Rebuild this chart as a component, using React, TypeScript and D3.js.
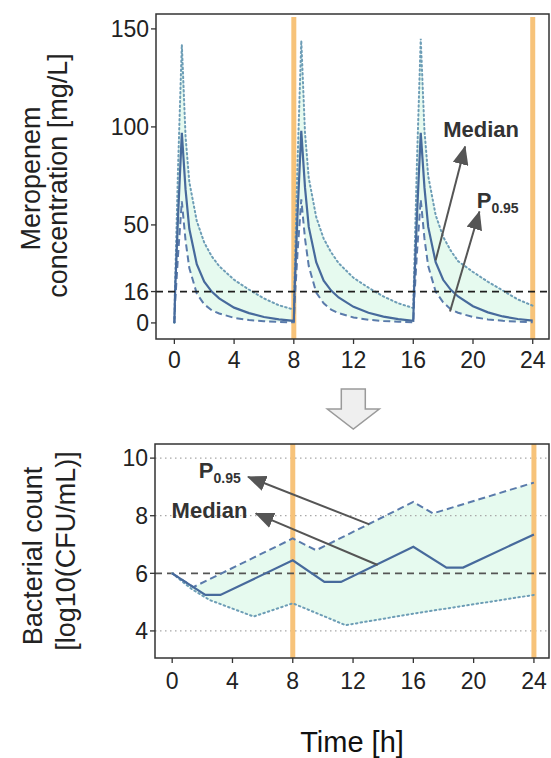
import React from "react";
import * as d3 from "d3";

// ---------- Top panel: meropenem concentration (mg/L) ----------
const tTop = [
  0, 0.05, 0.25, 0.5, 0.75, 1, 1.5, 2, 2.5, 3, 4, 5, 6, 7, 8,
  8.05, 8.25, 8.5, 8.75, 9, 9.5, 10, 10.5, 11, 12, 13, 14, 15, 16,
  16.05, 16.25, 16.5, 16.75, 17, 17.5, 18, 18.5, 19, 20, 21, 22, 23, 24,
];
const concMedian = [
  0, 16, 55, 97, 68, 48, 30, 21, 16, 12.5, 7.8, 5, 3, 1.8, 1.0,
  16, 56, 98, 69, 49, 31, 21.5, 16.5, 13, 8.2, 5.2, 3.2, 1.9, 1.1,
  16, 55, 97, 69, 49, 31, 22, 17, 13.5, 8.5, 5.4, 3.3, 2, 1.2,
];
const concP95 = [
  0, 10, 35, 62, 42, 28, 15, 9.5, 6.5, 4.8, 2.6, 1.5, 0.9, 0.5, 0.3,
  10, 36, 63, 43, 29, 15.5, 10, 6.8, 5, 2.8, 1.6, 1.0, 0.6, 0.3,
  10, 36, 63, 43, 29, 16, 10.5, 7, 5.2, 3, 1.8, 1.1, 0.6, 0.3,
];
const concP05 = [
  0, 20, 80, 142, 95, 72, 52, 41, 34, 29, 22, 17, 12.5, 9, 6.8,
  22, 82, 144, 97, 74, 54, 43, 36, 30.5, 23, 18, 13.5, 10, 7.6,
  23, 83, 145, 98, 75, 55, 44, 37, 31.5, 26, 21, 16.5, 12, 8.8,
];
const topYTicks = [0, 16, 50, 100, 150];
const micValue = 16;

// ---------- Bottom panel: bacterial count (log10 CFU/mL) ----------
const tBotMedian = [0, 2.2, 3.2, 8, 10.1, 11.2, 16, 18.2, 19.3, 24];
const cfuMedian = [6.0, 5.25, 5.25, 6.45, 5.7, 5.7, 6.92, 6.2, 6.2, 7.35];
const tBotP95 = [0, 1.4, 8, 9.55, 16, 17.3, 24];
const cfuP95 = [6.0, 5.52, 7.21, 6.8, 8.48, 8.08, 9.15];
const tBotP05 = [0, 1.3, 2.5, 5.4, 8, 11.5, 16, 24];
const cfuP05 = [6.0, 5.45, 5.07, 4.5, 4.96, 4.2, 4.6, 5.25];
const botYTicks = [4, 6, 8, 10];
const botGrid = [4, 8, 10];
const stasisValue = 6;

const xTicks = [0, 4, 8, 12, 16, 20, 24];
const doseLines = [8, 24];

// annotations (data coordinates)
const topArrows = [
  { from: [17.5, 32], to: [19.47, 90] },
  { from: [18.46, 5.8], to: [20.43, 56.8] },
];
const botArrows = [
  { from: [13.08, 7.7], to: [5.03, 9.35] },
  { from: [13.63, 6.29], to: [5.54, 8.08] },
];
const topLabels = { median: [18.0, 94.9], p95: [20.25, 58.7] };
const botLabels = { median: [-0.04, 7.92], p95: [1.77, 9.31] };

const FONT = "'Liberation Sans', Arial, Helvetica, sans-serif";
const C_MED = "#476a9c";
const C_P95 = "#5a7bab";
const C_P05 = "#6d9db6";
const C_FILL = "#e6faef";
const C_ORANGE = "#f7c37a";
const C_ARROW = "#555555";

type Pt = [number, number];

export default function App() {
  // scales
  const xT = d3.scaleLinear().domain([-1.23, 25.09]).range([156, 549]);
  const yT = d3.scaleLinear().domain([-8.2, 157.6]).range([339, 14]);
  const xB = d3.scaleLinear().domain([-1.14, 25.0]).range([155, 549]);
  const yB = d3.scaleLinear().domain([3.06, 10.49]).range([658, 444]);

  const lineT = d3.line<Pt>().x((d) => xT(d[0])).y((d) => yT(d[1]));
  const lineB = d3.line<Pt>().x((d) => xB(d[0])).y((d) => yB(d[1]));

  const zipT = (vals: number[]): Pt[] => tTop.map((t, i) => [t, vals[i]]);
  const zip = (ts: number[], vals: number[]): Pt[] => ts.map((t, i) => [t, vals[i]]);

  const areaT = d3
    .area<number>()
    .x((_, i) => xT(tTop[i]))
    .y0((_, i) => yT(concP95[i]))
    .y1((_, i) => yT(concP05[i]));

  const botUpper = zip(tBotP95, cfuP95);
  const botLower = zip(tBotP05, cfuP05).reverse();
  const botFill = lineB([...botUpper, ...botLower]) + "Z";

  const [xt0, xt1] = xT.range();
  const [yt0, yt1] = yT.range();
  const [xb0, xb1] = xB.range();
  const [yb0, yb1] = yB.range();

  const tickFont = 23;

  // block arrow between panels
  const cx = (xT(12) + xB(12)) / 2;
  const bTop = 389, bHead = 409, bTip = 429;
  const blockPts = [
    [cx - 12, bTop], [cx + 12, bTop], [cx + 12, bHead], [cx + 26, bHead],
    [cx, bTip], [cx - 26, bHead], [cx - 12, bHead],
  ].map((p) => p.join(",")).join(" ");

  return (
    <svg width={551} height={758} style={{ position: "absolute", left: 0, top: 0, background: "#fff" }}
      fontFamily={FONT}>
      <defs>
        <marker id="ah" viewBox="0 0 19 16" refX="18" refY="8" markerWidth="19" markerHeight="16"
          markerUnits="userSpaceOnUse" orient="auto">
          <path d="M0,0 L19,8 L0,16 Z" fill={C_ARROW} />
        </marker>
      </defs>

      {/* ================= TOP PANEL ================= */}
      <path d={areaT(concP05) || ""} fill={C_FILL} />
      {doseLines.map((t) => (
        <line key={"ot" + t} x1={xT(t)} x2={xT(t)} y1={yt1 + 3} y2={yt0} stroke={C_ORANGE} strokeWidth={5} />
      ))}
      <path d={lineT(zipT(concP05)) || ""} fill="none" stroke={C_P05} strokeWidth={2}
        strokeDasharray="1.5,3" strokeLinecap="round" />
      <path d={lineT(zipT(concP95)) || ""} fill="none" stroke={C_P95} strokeWidth={2}
        strokeDasharray="7,4" />
      <path d={lineT(zipT(concMedian)) || ""} fill="none" stroke={C_MED} strokeWidth={2.2} />
      <line x1={xt0} x2={xt1} y1={yT(micValue)} y2={yT(micValue)} stroke="#1f1f1f" strokeWidth={1.8}
        strokeDasharray="7,5" />
      <rect x={xt0} y={yt1} width={xt1 - xt0} height={yt0 - yt1} fill="none" stroke="#333" strokeWidth={1.5} />
      {topYTicks.map((v) => (
        <g key={"yt" + v}>
          <line x1={xt0 - 5} x2={xt0} y1={yT(v)} y2={yT(v)} stroke="#333" strokeWidth={1.3} />
          <text x={xt0 - 7} y={yT(v)} dy="0.36em" textAnchor="end" fontSize={tickFont} fill="#222">{v}</text>
        </g>
      ))}
      {xTicks.map((t) => (
        <g key={"xt" + t}>
          <line x1={xT(t)} x2={xT(t)} y1={yt0} y2={yt0 + 5} stroke="#333" strokeWidth={1.3} />
          <text x={xT(t)} y={368} textAnchor="middle" fontSize={tickFont} fill="#222">{t}</text>
        </g>
      ))}
      <text transform={`translate(40,${(yt0 + yt1) / 2 + 2}) rotate(-90)`} textAnchor="middle" fontSize={27} fill="#222">Meropenem</text>
      <text transform={`translate(67,${(yt0 + yt1) / 2 - 1}) rotate(-90)`} textAnchor="middle" fontSize={27} fill="#222">concentration [mg/L]</text>
      {topArrows.map((a, i) => (
        <line key={"ta" + i} x1={xT(a.from[0])} y1={yT(a.from[1])} x2={xT(a.to[0])} y2={yT(a.to[1])}
          stroke={C_ARROW} strokeWidth={2} markerEnd="url(#ah)" />
      ))}
      <text x={xT(topLabels.median[0])} y={yT(topLabels.median[1])} fontSize={22} fontWeight="bold" fill="#333">Median</text>
      <text x={xT(topLabels.p95[0])} y={yT(topLabels.p95[1])} fontSize={22} fontWeight="bold" fill="#333">
        P<tspan fontSize={14} dy={5}>0.95</tspan>
      </text>

      {/* ================= BLOCK ARROW ================= */}
      <polygon points={blockPts} fill="#efefef" stroke="#9a9a9a" strokeWidth={1.5} />

      {/* ================= BOTTOM PANEL ================= */}
      <path d={botFill} fill={C_FILL} />
      {botGrid.map((v) => (
        <line key={"g" + v} x1={xb0} x2={xb1} y1={yB(v)} y2={yB(v)} stroke="#a8a8a8" strokeWidth={1.3}
          strokeDasharray="1.5,3.5" />
      ))}
      {doseLines.map((t) => (
        <line key={"ob" + t} x1={xB(t)} x2={xB(t)} y1={yb1} y2={yb0} stroke={C_ORANGE} strokeWidth={5} />
      ))}
      <line x1={xb0} x2={xb1} y1={yB(stasisValue)} y2={yB(stasisValue)} stroke="#555" strokeWidth={1.8}
        strokeDasharray="7,5" />
      <path d={lineB(zip(tBotP05, cfuP05)) || ""} fill="none" stroke={C_P05} strokeWidth={2}
        strokeDasharray="1.5,3.2" strokeLinecap="round" />
      <path d={lineB(zip(tBotP95, cfuP95)) || ""} fill="none" stroke={C_P95} strokeWidth={2}
        strokeDasharray="7,4" />
      <path d={lineB(zip(tBotMedian, cfuMedian)) || ""} fill="none" stroke={C_MED} strokeWidth={2.2} />
      <rect x={xb0} y={yb1} width={xb1 - xb0} height={yb0 - yb1} fill="none" stroke="#333" strokeWidth={1.5} />
      {botYTicks.map((v) => (
        <g key={"yb" + v}>
          <line x1={xb0 - 5} x2={xb0} y1={yB(v)} y2={yB(v)} stroke="#333" strokeWidth={1.3} />
          <text x={xb0 - 7} y={yB(v)} dy="0.36em" textAnchor="end" fontSize={tickFont} fill="#222">{v}</text>
        </g>
      ))}
      {xTicks.map((t) => (
        <g key={"xb" + t}>
          <line x1={xB(t)} x2={xB(t)} y1={yb0} y2={yb0 + 5} stroke="#333" strokeWidth={1.3} />
          <text x={xB(t)} y={689} textAnchor="middle" fontSize={tickFont} fill="#222">{t}</text>
        </g>
      ))}
      <text transform={`translate(42,${(yb0 + yb1) / 2 + 5}) rotate(-90)`} textAnchor="middle" fontSize={27} fill="#222">Bacterial count</text>
      <text transform={`translate(75,${(yb0 + yb1) / 2}) rotate(-90)`} textAnchor="middle" fontSize={27} fill="#222">[log10(CFU/mL)]</text>
      {botArrows.map((a, i) => (
        <line key={"ba" + i} x1={xB(a.from[0])} y1={yB(a.from[1])} x2={xB(a.to[0])} y2={yB(a.to[1])}
          stroke={C_ARROW} strokeWidth={2} markerEnd="url(#ah)" />
      ))}
      <text x={xB(botLabels.median[0])} y={yB(botLabels.median[1])} fontSize={22} fontWeight="bold" fill="#333">Median</text>
      <text x={xB(botLabels.p95[0])} y={yB(botLabels.p95[1])} fontSize={22} fontWeight="bold" fill="#333">
        P<tspan fontSize={14} dy={5}>0.95</tspan>
      </text>

      <text x={352} y={752} textAnchor="middle" fontSize={29} fill="#111">Time [h]</text>
    </svg>
  );
}
